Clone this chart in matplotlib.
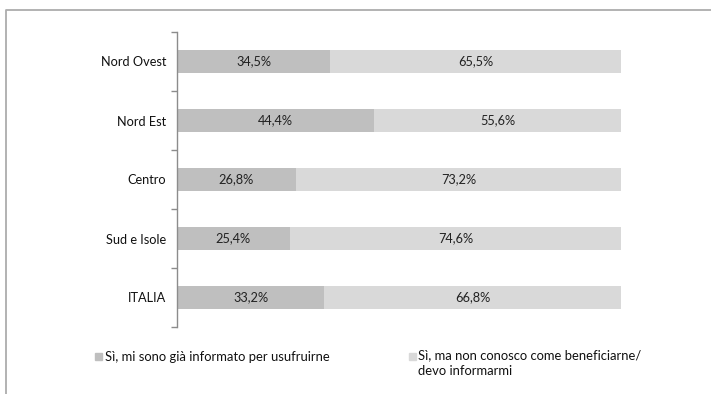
import matplotlib.pyplot as plt
from matplotlib.lines import Line2D
from matplotlib.patches import Rectangle

plt.rcParams['font.family'] = ['Lato', 'DejaVu Sans']

categories = ['Nord Ovest', 'Nord Est', 'Centro', 'Sud e Isole', 'ITALIA']
informed = [34.5, 44.4, 26.8, 25.4, 33.2]
not_informed = [65.5, 55.6, 73.2, 74.6, 66.8]
series_labels = ['Sì, mi sono già informato per usufruirne',
                 'Sì, ma non conosco come beneficiarne/\ndevo informarmi']
colors = ['#BFBFBF', '#D9D9D9']

W, H = 711, 394
fig = plt.figure(figsize=(W / 100, H / 100), dpi=100)

# plot area in pixels: x 177..621, y 32..327
ax = fig.add_axes([177 / W, 1 - 327 / H, (621 - 177) / W, (327 - 32) / H])

y = list(range(len(categories)))
ax.barh(y, informed, height=0.38, color=colors[0])
ax.barh(y, not_informed, left=informed, height=0.38, color=colors[1])

for i in y:
    ax.text(informed[i] / 2, i, f'{informed[i]:.1f}%'.replace('.', ','),
            ha='center', va='center', fontsize=9.2, color='#222222')
    ax.text(informed[i] + not_informed[i] / 2, i,
            f'{not_informed[i]:.1f}%'.replace('.', ','),
            ha='center', va='center', fontsize=9.2, color='#222222')

ax.set_xlim(0, 100)
ax.set_ylim(len(categories) - 0.5, -0.5)
ax.set_yticks([i + 0.5 for i in range(-1, len(categories))], minor=False)
ax.set_yticklabels([])
ax.set_yticks(y, minor=True)
ax.set_yticklabels(categories, minor=True, fontsize=9.2, color='#111111')
ax.tick_params(axis='y', which='major', length=4, width=1, color='#8C8C8C', direction='out')
ax.tick_params(axis='y', which='minor', length=0, pad=8)
ax.set_xticks([])
for s in ['top', 'right', 'bottom']:
    ax.spines[s].set_visible(False)
ax.spines['left'].set_color('#8C8C8C')
ax.spines['left'].set_linewidth(1)

# legend
fig.patches.append(Rectangle((95 / W, 1 - 360 / H), 7 / W, 7 / H,
                             transform=fig.transFigure, color=colors[0]))
fig.text(105 / W, 1 - 357 / H, series_labels[0], fontsize=9.4, va='center', color='#111111')
fig.patches.append(Rectangle((409 / W, 1 - 360 / H), 7 / W, 7 / H,
                             transform=fig.transFigure, color=colors[1]))
fig.text(418 / W, 1 - 349 / H, series_labels[1], fontsize=9.4, va='top',
         color='#111111', linespacing=1.4)

# outer frame (top and left edges)
fig.add_artist(Line2D([6 / W, 6 / W, 1], [0, 1 - 10 / H, 1 - 10 / H],
                      transform=fig.transFigure, color='#ADADAD', lw=1.3))

fig.savefig('out.png', dpi=100)
